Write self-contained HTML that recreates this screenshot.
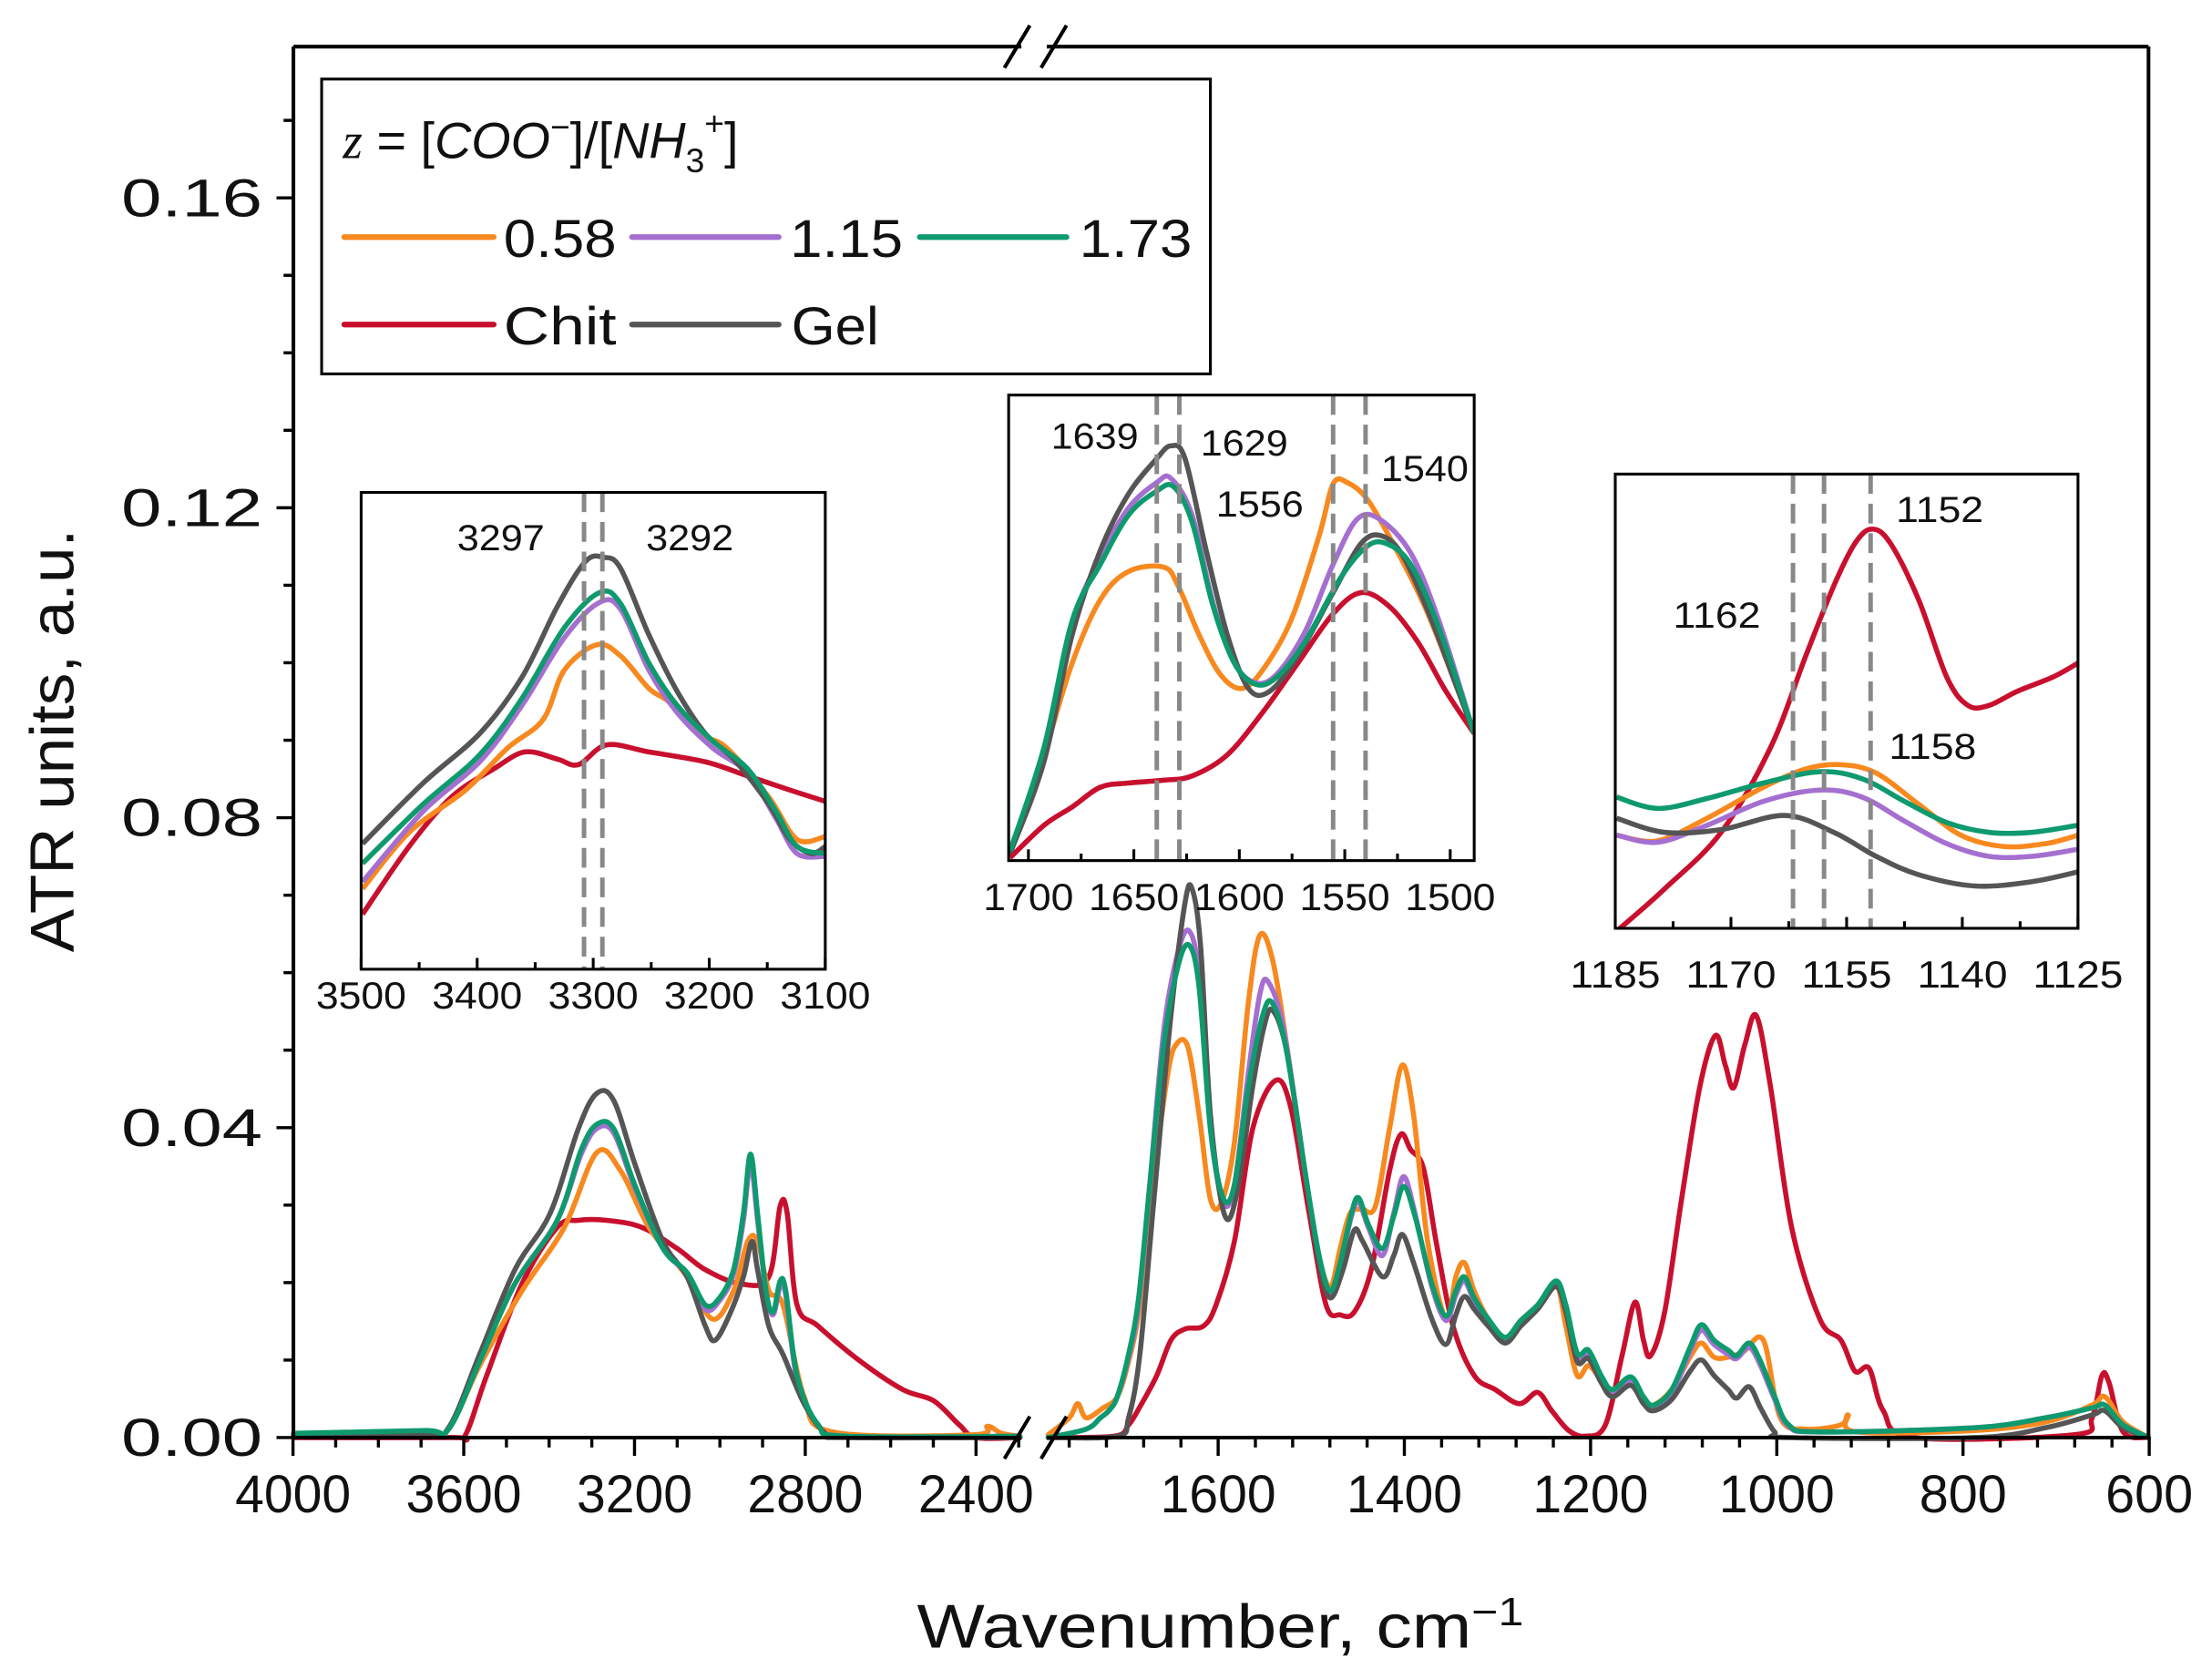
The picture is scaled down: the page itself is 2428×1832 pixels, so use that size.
<!DOCTYPE html>
<html><head><meta charset="utf-8"><style>
html,body{margin:0;padding:0;background:#fff;}
svg{display:block;}
text{font-family:"Liberation Sans",sans-serif;fill:#111;}
</style></head><body>
<svg id="s" width="2428" height="1832" viewBox="0 0 1568 1183" xmlns="http://www.w3.org/2000/svg">
<rect width="1568" height="1183" fill="#fff"/>
<g id="curves" fill="none" stroke-width="3.6" stroke-linejoin="round" stroke-linecap="round"></g>
<g id="axes" stroke="#000" stroke-width="2.6" fill="none">
<line x1="208" y1="33" x2="208" y2="1019"/>
<line x1="1523" y1="33" x2="1523" y2="1019"/>
<line x1="208" y1="33" x2="724" y2="33"/>
<line x1="742" y1="33" x2="1523" y2="33"/>
<line x1="208" y1="1019" x2="724" y2="1019"/>
<line x1="742" y1="1019" x2="1523" y2="1019"/>
<line x1="712" y1="48" x2="730" y2="18"/><line x1="738" y1="48" x2="756" y2="18"/>
<line x1="712" y1="1034" x2="730" y2="1004"/><line x1="738" y1="1034" x2="756" y2="1004"/>
</g>
<g id="ticks" stroke="#000" stroke-width="2.2"></g>
<g id="ticklabels" font-size="38"></g>
<text x="52" y="525" font-size="44" text-anchor="middle" transform="rotate(-90 52 525)" textLength="300" lengthAdjust="spacingAndGlyphs">ATR units, a.u.</text>
<text x="865" y="1168" font-size="44" text-anchor="middle" textLength="430" lengthAdjust="spacingAndGlyphs">Wavenumber, cm<tspan dy="-16" font-size="28">−1</tspan></text>

<rect x="228" y="56" width="630" height="209" fill="#fff" stroke="#000" stroke-width="2"/>
<text x="243" y="112" font-size="36"><tspan font-family="Liberation Serif" font-style="italic">z</tspan> = [<tspan font-style="italic">COO</tspan><tspan dy="-14" font-size="24">−</tspan><tspan dy="14">]/[</tspan><tspan font-style="italic">NH</tspan><tspan dy="10" font-size="24">3</tspan><tspan dy="-26" font-size="24">+</tspan><tspan dy="16">]</tspan></text>
<g stroke-width="4" stroke-linecap="round">
<line x1="244" y1="168" x2="350" y2="168" stroke="#f7891f"/>
<line x1="448" y1="168" x2="552" y2="168" stroke="#a56fd0"/>
<line x1="652" y1="168" x2="756" y2="168" stroke="#0e9a6e"/>
<line x1="244" y1="230" x2="350" y2="230" stroke="#c8102e"/>
<line x1="448" y1="230" x2="552" y2="230" stroke="#555"/>
</g>
<g font-size="38">
<text x="357" y="182" textLength="80" lengthAdjust="spacingAndGlyphs">0.58</text>
<text x="560" y="182" textLength="80" lengthAdjust="spacingAndGlyphs">1.15</text>
<text x="765" y="182" textLength="80" lengthAdjust="spacingAndGlyphs">1.73</text>
<text x="357" y="244" textLength="80" lengthAdjust="spacingAndGlyphs">Chit</text>
<text x="561" y="244" textLength="62" lengthAdjust="spacingAndGlyphs">Gel</text>
</g>
<g id="insets"></g>
</svg>
<script>
const NS="http://www.w3.org/2000/svg";
function el(p,t,a,txt){const e=document.createElementNS(NS,t);for(const k in a)e.setAttribute(k,a[k]);if(txt!==undefined)e.textContent=txt;p.appendChild(e);return e;}
function cr(pts){let d="M"+pts[0][0]+","+pts[0][1];for(let i=0;i<pts.length-1;i++){const p0=pts[i-1]||pts[i],p1=pts[i],p2=pts[i+1],p3=pts[i+2]||p2;const c1=[p1[0]+(p2[0]-p0[0])/6,p1[1]+(p2[1]-p0[1])/6],c2=[p2[0]-(p3[0]-p1[0])/6,p2[1]-(p3[1]-p1[1])/6];d+=" C"+c1[0].toFixed(1)+","+c1[1].toFixed(1)+" "+c2[0].toFixed(1)+","+c2[1].toFixed(1)+" "+p2[0]+","+p2[1];}return d;}
const C={o:"#f7891f",p:"#a56fd0",g:"#0e9a6e",r:"#c8102e",k:"#555"};
const tail=[[1290,1015],[1400,1012],[1450,1005],[1483,998],[1492,996],[1505,1010],[1523,1019]];
const main={
k:[[[208,1018],[300,1017],[318,1012],[340,960],[365,900],[390,860],[410,800],[423,775],[435,780],[450,825],[470,880],[487,905],[500,940],[507,950],[518,930],[527,905],[533,880],[537,900],[545,940],[555,960],[570,995],[585,1016],[600,1019],[723,1019]],
[[743,1019],[792,1018],[800,1005],[808,960],[818,850],[830,720],[840,640],[845,630],[851,670],[858,790],[868,861],[877,845],[888,770],[896,728],[902,716],[912,745],[925,830],[935,895],[943,920],[952,900],[960,872],[966,880],[980,905],[988,890],[994,875],[1002,895],[1015,935],[1025,953],[1032,932],[1038,919],[1045,928],[1055,940],[1067,952],[1078,940],[1090,928],[1103,912],[1110,930],[1118,965],[1126,963],[1135,980],[1143,990],[1156,982],[1165,995],[1172,1000],[1185,992],[1198,972],[1206,964],[1215,975],[1225,985],[1231,991],[1240,983],[1248,998],[1258,1015],[1268,1019],[1400,1019],[1450,1012],[1483,1003],[1492,1000],[1505,1012],[1523,1019]]],
o:[[[208,1018],[300,1017],[318,1013],[340,968],[370,915],[400,870],[423,817],[440,830],[460,870],[487,905],[505,935],[520,915],[530,880],[537,880],[545,915],[555,925],[570,990],[590,1015],[690,1017],[700,1011],[710,1016],[723,1018]],
[[743,1017],[758,1005],[764,995],[770,1005],[782,998],[792,990],[800,965],[808,925],[818,835],[828,760],[834,740],[842,742],[850,790],[858,850],[866,852],[875,810],[885,710],[893,663],[902,680],[912,740],[925,830],[935,890],[943,912],[950,885],[957,860],[965,857],[975,855],[985,800],[994,755],[1002,790],[1012,880],[1025,935],[1032,905],[1038,895],[1045,915],[1055,935],[1067,948],[1078,936],[1090,925],[1103,910],[1110,940],[1118,975],[1126,968],[1135,978],[1143,985],[1156,978],[1165,992],[1172,996],[1185,985],[1198,962],[1206,952],[1215,962],[1225,962],[1236,958],[1250,950],[1262,1005],[1280,1013],[1305,1010],[1310,1003],[1316,1015],[1400,1014],[1450,1008],[1483,996],[1492,990],[1505,1008],[1523,1019]]],
p:[[[208,1017],[300,1016],[318,1013],[340,965],[365,910],[395,865],[412,818],[423,800],[435,803],[450,842],[470,885],[487,903],[500,928],[510,922],[520,903],[527,865],[532,825],[537,865],[543,915],[548,932],[553,912],[557,918],[565,978],[580,1010],[600,1018],[723,1018]],
[[743,1019],[770,1013],[780,1005],[786,1000],[792,990],[800,962],[807,925],[815,840],[825,730],[835,675],[843,660],[850,692],[858,800],[867,852],[875,840],[885,760],[893,705],[899,696],[910,730],[925,830],[935,890],[943,917],[950,897],[958,862],[963,852],[970,870],[980,890],[988,860],[995,834],[1003,860],[1015,912],[1025,936],[1032,918],[1038,908],[1045,922],[1055,937],[1067,950],[1078,938],[1090,927],[1103,910],[1110,928],[1118,962],[1126,960],[1135,978],[1143,988],[1156,979],[1165,993],[1172,998],[1185,988],[1198,958],[1206,943],[1215,953],[1225,960],[1231,963],[1240,955],[1248,968],[1258,992],[1268,1011]].concat(tail)],
g:[[[208,1016],[300,1014],[318,1013],[340,965],[365,910],[395,865],[412,815],[423,797],[435,800],[450,840],[470,885],[487,902],[500,925],[510,920],[520,900],[527,860],[532,818],[537,860],[543,915],[548,930],[553,908],[557,915],[565,975],[580,1010],[600,1018],[723,1018]],
[[743,1019],[770,1013],[780,1005],[786,1000],[792,990],[800,960],[807,921],[815,840],[825,740],[835,685],[843,670],[850,700],[858,800],[867,849],[875,840],[885,770],[895,720],[902,711],[912,745],[925,830],[935,890],[943,915],[950,895],[958,860],[963,849],[970,868],[980,885],[988,862],[995,841],[1003,862],[1015,910],[1025,933],[1032,915],[1038,905],[1045,920],[1055,935],[1067,948],[1078,936],[1090,925],[1103,908],[1110,925],[1118,959],[1126,957],[1135,975],[1143,985],[1156,976],[1165,990],[1172,996],[1185,985],[1198,955],[1206,939],[1215,950],[1225,957],[1231,961],[1240,952],[1248,965],[1258,990],[1268,1010]].concat(tail)],
r:[[[208,1019],[320,1019],[330,1017],[345,975],[370,910],[395,870],[410,865],[430,865],[455,870],[480,885],[500,900],[525,910],[545,905],[553,855],[558,860],[565,925],[580,940],[610,965],[640,985],[662,993],[680,1010],[692,1019],[723,1019]],
[[743,1019],[790,1018],[800,1010],[807,999],[820,975],[830,950],[840,942],[853,940],[862,925],[875,880],[888,800],[904,766],[915,785],[928,860],[940,925],[950,932],[960,930],[972,900],[985,830],[993,804],[1000,815],[1009,828],[1018,880],[1030,940],[1045,975],[1060,985],[1077,995],[1090,987],[1100,1000],[1112,1014],[1124,1018],[1138,1010],[1150,960],[1159,923],[1165,950],[1170,961],[1180,930],[1192,850],[1205,770],[1216,734],[1223,755],[1229,771],[1237,740],[1245,720],[1255,770],[1270,870],[1290,935],[1305,950],[1315,972],[1325,970],[1335,1000],[1357,1019],[1470,1017],[1483,1005],[1490,975],[1495,980],[1505,1015],[1523,1019]]]};
const cg=document.getElementById("curves");
for(const k of ["r","o","p","k","g"])for(const seg of main[k])el(cg,"path",{d:cr(seg),stroke:C[k]});
const tg=document.getElementById("ticks"),tl=document.getElementById("ticklabels");
for(let i=0;i<=17;i++){const v=i*0.01,y=1019-v*5492.5;if(y<40)break;const maj=i%4==0;el(tg,"line",{x1:208,y1:y,x2:maj?196:201,y2:y});if(maj)el(tl,"text",{x:186,y:y+13,"text-anchor":"end",textLength:100,lengthAdjust:"spacingAndGlyphs"},v.toFixed(2));}
for(let w=4000;w>=2300;w-=100){const x=207.7+(4000-w)*0.3026;const maj=w%400==0;el(tg,"line",{x1:x,y1:1019,x2:x,y2:maj?1032:1026});if(maj)el(tl,"text",{x:x,y:1072,"text-anchor":"middle",textLength:82,lengthAdjust:"spacingAndGlyphs"},w);}
for(let w=1760;w>=600;w-=40){const x=863.5+(1600-w)*0.66;if(x<745)continue;const maj=w%200==0;el(tg,"line",{x1:x,y1:1019,x2:x,y2:maj?1032:1026});if(maj)el(tl,"text",{x:x,y:1072,"text-anchor":"middle",textLength:w>=1000?82:62,lengthAdjust:"spacingAndGlyphs"},w);}
const ig=document.getElementById("insets");
function inset(x0,y0,x1,y1,series,dash,labels,ticks,tly,tx){
 const g=el(ig,"g",{});
 el(g,"rect",{x:x0,y:y0,width:x1-x0,height:y1-y0,fill:"#fff"});
 const cp=el(g,"clipPath",{id:"c"+x0});el(cp,"rect",{x:x0,y:y0,width:x1-x0,height:y1-y0});
 const cgp=el(g,"g",{"clip-path":"url(#c"+x0+")",fill:"none","stroke-width":"3.6","stroke-linejoin":"round"});
 for(const [k,pts] of series)el(cgp,"path",{d:cr(pts),stroke:C[k]});
 for(const dx of dash)el(g,"line",{x1:dx,y1:y0,x2:dx,y2:y1,stroke:"#888","stroke-width":3.2,"stroke-dasharray":"14,7"});
 el(g,"rect",{x:x0,y:y0,width:x1-x0,height:y1-y0,fill:"none",stroke:"#000","stroke-width":2});
 for(const [t,x,y] of labels)el(g,"text",{x:x,y:y,"font-size":26,"text-anchor":"middle",textLength:62,lengthAdjust:"spacingAndGlyphs"},t);
 const n=ticks.length;const xa=tx?tx[0]:x0,xb=tx?tx[1]:x1;const st=(xb-xa)/(n-1);
 for(let i=0;i<n;i++){const x=xa+st*i;el(g,"line",{x1:x,y1:y1,x2:x,y2:y1-8,stroke:"#000","stroke-width":2});if(i<n-1){const xm=x+st/2;el(g,"line",{x1:xm,y1:y1,x2:xm,y2:y1-5,stroke:"#000","stroke-width":2});}
 el(g,"text",{x:x,y:tly,"font-size":27,"text-anchor":"middle",textLength:64,lengthAdjust:"spacingAndGlyphs"},ticks[i]);}
}
inset(256,349,585,687,[
["r",[[257,648],[290,600],[320,565],[350,545],[372,533],[395,538],[410,542],[430,528],[460,533],[500,540],[530,550],[560,560],[585,568]]],
["o",[[257,630],[290,590],[330,560],[360,530],[385,510],[400,475],[423,457],[440,465],[460,488],[475,498],[495,520],[515,530],[545,565],[565,595],[585,593]]],
["p",[[257,625],[300,575],[340,540],[370,500],[400,452],[425,427],[440,432],[460,475],[480,505],[505,530],[530,548],[550,580],[565,605],[585,607]]],
["k",[[257,598],[300,555],[340,520],[370,480],[395,430],[415,398],[428,395],[440,403],[460,450],[480,490],[500,520],[520,538],[545,570],[560,595],[575,605],[585,600]]],
["g",[[257,612],[300,570],[340,535],[370,495],[400,445],[425,420],[440,428],[460,470],[480,500],[505,525],[530,545],[550,575],[565,600],[585,605]]]],
[414,427],[["3297",355,390],["3292",489,390]],["3500","3400","3300","3200","3100"],715);
inset(715,280,1045,610,[
["r",[[716,608],[740,585],[760,572],[780,558],[800,555],[825,553],[845,550],[870,535],[895,505],[920,470],[945,435],[965,420],[985,430],[1005,455],[1025,490],[1045,520]]],
["o",[[716,603],[740,535],[760,470],[780,425],[800,405],[825,402],[835,415],[850,450],[865,478],[880,488],[895,475],[915,440],[935,380],[945,343],[955,342],[970,355],[990,390],[1010,430],[1030,480],[1045,520]]],
["p",[[716,603],[740,532],[760,442],[780,395],[800,360],[820,342],[830,339],[845,365],[860,428],[875,470],[890,484],[905,478],[925,448],[945,400],[962,368],[978,368],[1000,392],[1020,440],[1045,520]]],
["k",[[716,605],[740,540],[760,450],[780,390],[800,350],[820,325],[830,316],[840,325],[855,390],[870,450],[885,488],[900,490],[920,465],[945,420],[965,385],[980,380],[995,395],[1015,440],[1030,480],[1045,520]]],
["g",[[716,603],[740,530],[760,440],[780,400],[800,365],[820,348],[832,345],[845,370],[860,430],[875,470],[890,485],[905,480],[925,455],[950,410],[968,388],[982,385],[1000,400],[1020,445],[1045,520]]]],
[820,836,945,968],[["1639",776,318],["1629",882,323],["1556",893,366],["1540",1010,341]],["1700","1650","1600","1550","1500"],645,[729,1028]);
inset(1145,336,1473,658,[
["r",[[1146,660],[1180,630],[1220,590],[1255,530],[1280,465],[1300,415],[1315,385],[1327,375],[1340,385],[1360,425],[1380,480],[1395,500],[1410,500],[1430,490],[1455,480],[1473,470]]],
["o",[[1146,592],[1175,596],[1210,580],[1250,558],[1280,545],[1305,542],[1330,548],[1360,570],[1390,592],[1420,600],[1450,598],[1473,592]]],
["p",[[1146,592],[1175,597],[1210,585],[1250,568],[1290,560],[1320,565],[1350,582],[1380,598],[1410,607],[1440,607],[1473,602]]],
["k",[[1146,580],[1180,590],[1220,588],[1265,578],[1300,590],[1330,607],[1360,620],[1400,628],[1440,625],[1473,618]]],
["g",[[1146,565],[1175,573],[1210,566],[1250,555],[1290,547],[1320,552],[1350,568],[1380,583],[1410,590],[1440,590],[1473,585]]]],
[1271,1293,1326],[["1152",1375,370],["1162",1217,445],["1158",1370,538]],["1185","1170","1155","1140","1125"],700);
</script>
</body></html>
